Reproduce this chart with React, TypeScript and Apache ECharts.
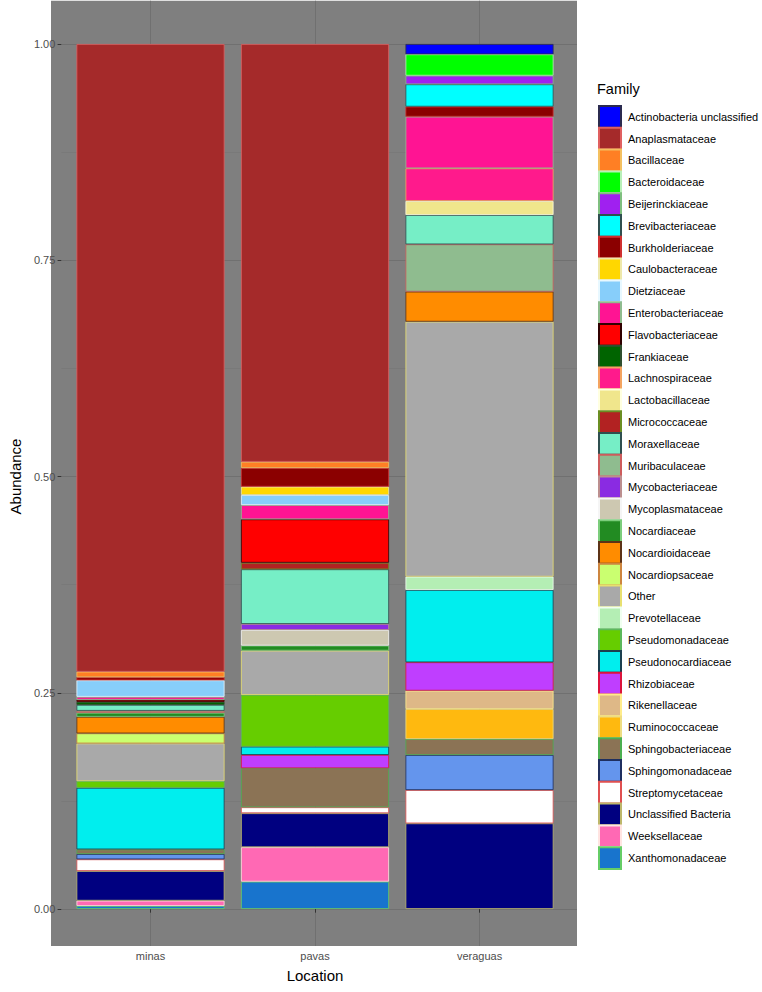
import React, { useEffect, useRef } from "react";
import * as echarts from "echarts";

const locations = ["minas", "pavas", "veraguas"];

const families = [
  "Actinobacteria unclassified", "Anaplasmataceae", "Bacillaceae", "Bacteroidaceae",
  "Beijerinckiaceae", "Brevibacteriaceae", "Burkholderiaceae", "Caulobacteraceae",
  "Dietziaceae", "Enterobacteriaceae", "Flavobacteriaceae", "Frankiaceae",
  "Lachnospiraceae", "Lactobacillaceae", "Micrococcaceae", "Moraxellaceae",
  "Muribaculaceae", "Mycobacteriaceae", "Mycoplasmataceae", "Nocardiaceae",
  "Nocardioidaceae", "Nocardiopsaceae", "Other", "Prevotellaceae",
  "Pseudomonadaceae", "Pseudonocardiaceae", "Rhizobiaceae", "Rikenellaceae",
  "Ruminococcaceae", "Sphingobacteriaceae", "Sphingomonadaceae", "Streptomycetaceae",
  "Unclassified Bacteria", "Weeksellaceae", "Xanthomonadaceae",
];

const fillColors = [
  "#0000FF", "#A52A2A", "#FF7F24", "#00FF00",
  "#A020F0", "#00FFFF", "#8B0000", "#FFD700",
  "#87CEFA", "#FF1493", "#FF0000", "#006400",
  "#FF1A8C", "#F0E68C", "#B22222", "#76EEC6",
  "#8FBC8F", "#8A2BE2", "#CDC8B1", "#228B22",
  "#FF8C00", "#CAFF70", "#A9A9A9", "#B4EEB4",
  "#66CD00", "#00EEEE", "#BF3EFF", "#DEB887",
  "#FFB90F", "#8B7355", "#6495ED", "#FFFFFF",
  "#000080", "#FF69B4", "#1874CD",
];

const borderColors = [
  "#2B2B4F", "#E06060", "#F4C060", "#B8F0B8",
  "#7FBF7F", "#2F4F4F", "#D03030", "#EEE8AA",
  "#E8F8FF", "#8FBC8F", "#300000", "#2F4F2F",
  "#F4A460", "#FFFFE0", "#6B8E23", "#2F4F4F",
  "#CD5C5C", "#BC8F8F", "#F5F5F5", "#7CCD7C",
  "#5C3317", "#CD853F", "#E8E070", "#F0FFF0",
  "#5CB85C", "#1C3F4F", "#DC143C", "#FFEC8B",
  "#EEDD82", "#4CAF50", "#1F2F5F", "#E05050",
  "#BDB76B", "#FFE4E1", "#66CD66",
];

const minas = [
  0, 0.7257, 0.0064, 0,
  0, 0, 0.0035, 0,
  0.0191, 0.0035, 0.0023, 0.0035,
  0, 0, 0, 0.0069,
  0.0023, 0, 0, 0.0046,
  0.0192, 0.0116, 0.0436, 0,
  0.0077, 0.0712, 0, 0,
  0, 0.0054, 0.0061, 0.0135,
  0.0343, 0.0061, 0.0035,
];

const pavas = [
  0, 0.483, 0.0072, 0,
  0, 0, 0.0216, 0.0096,
  0.0116, 0.0165, 0.0502, 0,
  0, 0, 0.0076, 0.0632,
  0, 0.0069, 0.0181, 0.0058,
  0, 0, 0.0512, 0,
  0.0598, 0.0096, 0.0154, 0,
  0, 0.0451, 0, 0.0069,
  0.0393, 0.0398, 0.0316,
];

const veraguas = [
  0.0119, 0, 0, 0.0247,
  0.01, 0.0258, 0.0116, 0,
  0, 0.0597, 0, 0,
  0.0378, 0.0162, 0, 0.0339,
  0.0547, 0, 0, 0,
  0.0347, 0, 0.2948, 0.0154,
  0, 0.0836, 0.0328, 0.0212,
  0.0347, 0.0185, 0.0405, 0.0385,
  0.099, 0, 0,
];

const yTickFormat = (v: number) => v.toFixed(2);

export default function App() {
  const ref = useRef<HTMLDivElement>(null);

  useEffect(() => {
    const chart = echarts.init(ref.current!, null, { renderer: "svg" });
    const font = "'Liberation Sans', Arial, Helvetica, sans-serif";
    const gridColor = "#707070";

    const series: any[] = [];
    for (let i = families.length - 1; i >= 0; i--) {
      series.push({
        type: "bar",
        name: families[i],
        stack: "total",
        xAxisIndex: 2,
        yAxisIndex: 2,
        barWidth: "90%",
        itemStyle: {
          color: fillColors[i],
          borderColor: borderColors[i],
          borderWidth: 0.8,
        },
        emphasis: { disabled: true },
        data: [minas[i], pavas[i], veraguas[i]].map((v) => (v > 0 ? v : "-")),
      });
    }

    chart.setOption({
      animation: false,
      backgroundColor: "#FFFFFF",
      textStyle: { fontFamily: font },
      title: {
        text: "Family",
        left: 597,
        top: 81,
        padding: 0,
        textStyle: { fontSize: 14.5, fontWeight: "normal", color: "#000000", fontFamily: font },
      },
      legend: {
        orient: "vertical",
        left: 598,
        top: 105,
        padding: 0,
        itemWidth: 22,
        itemHeight: 21.7,
        itemGap: -1.9,
        selectedMode: false,
        textStyle: { fontSize: 11, color: "#000000", fontFamily: font, padding: [0, 0, 0, 2] },
        data: families.map((name) => ({ name, icon: "rect" })),
      },
      grid: [
        { left: 51, top: 0.75, width: 526, height: 945.25, show: true, backgroundColor: "#7F7F7F", borderWidth: 0 },
        { left: 51, top: 44, width: 526, height: 865 },
        { left: 68.25, top: 0.75, width: 493.5, height: 945.25 },
      ],
      xAxis: [
        { gridIndex: 0, type: "value", show: false },
        { gridIndex: 1, type: "value", show: false, min: 0, max: 1 },
        {
          gridIndex: 2,
          type: "category",
          data: locations,
          position: "bottom",
          boundaryGap: true,
          axisLine: { show: false },
          axisTick: { show: true, alignWithLabel: true, length: 3.7, lineStyle: { color: "#333333", width: 1 } },
          axisLabel: { color: "#4D4D4D", fontSize: 11, margin: 4, fontFamily: font },
          splitLine: { show: false },
          name: "Location",
          nameLocation: "middle",
          nameGap: 22,
          nameTextStyle: { fontSize: 15, color: "#000000", fontFamily: font },
        },
        {
          gridIndex: 2,
          type: "value",
          min: 0,
          max: 6,
          interval: 1,
          position: "top",
          axisLine: { show: false },
          axisTick: { show: false },
          axisLabel: { show: false },
          splitLine: { show: true, lineStyle: { color: ["rgba(0,0,0,0)", gridColor], width: 1 } },
        },
      ],
      yAxis: [
        { gridIndex: 0, type: "value", show: false },
        {
          gridIndex: 1,
          type: "value",
          min: 0,
          max: 1,
          interval: 0.25,
          axisLine: { show: false },
          axisTick: { show: true, length: 3.7, lineStyle: { color: "#333333", width: 1 } },
          axisLabel: { color: "#4D4D4D", fontSize: 11, margin: 6, formatter: yTickFormat, fontFamily: font },
          splitLine: { show: true, lineStyle: { color: gridColor, width: 1 } },
          minorTick: { show: false, splitNumber: 2 },
          minorSplitLine: { show: true, lineStyle: { color: "#767676", width: 0.6 } },
          name: "Abundance",
          nameLocation: "middle",
          nameGap: 34,
          nameRotate: 90,
          nameTextStyle: { fontSize: 15, color: "#000000", fontFamily: font },
        },
        { gridIndex: 2, type: "value", min: -0.0428, max: 1.05, show: false },
      ],
      series,
    });

    return () => chart.dispose();
  }, []);

  return (
    <div
      ref={ref}
      style={{ position: "fixed", left: 0, top: 0, width: 762, height: 992 }}
    />
  );
}
